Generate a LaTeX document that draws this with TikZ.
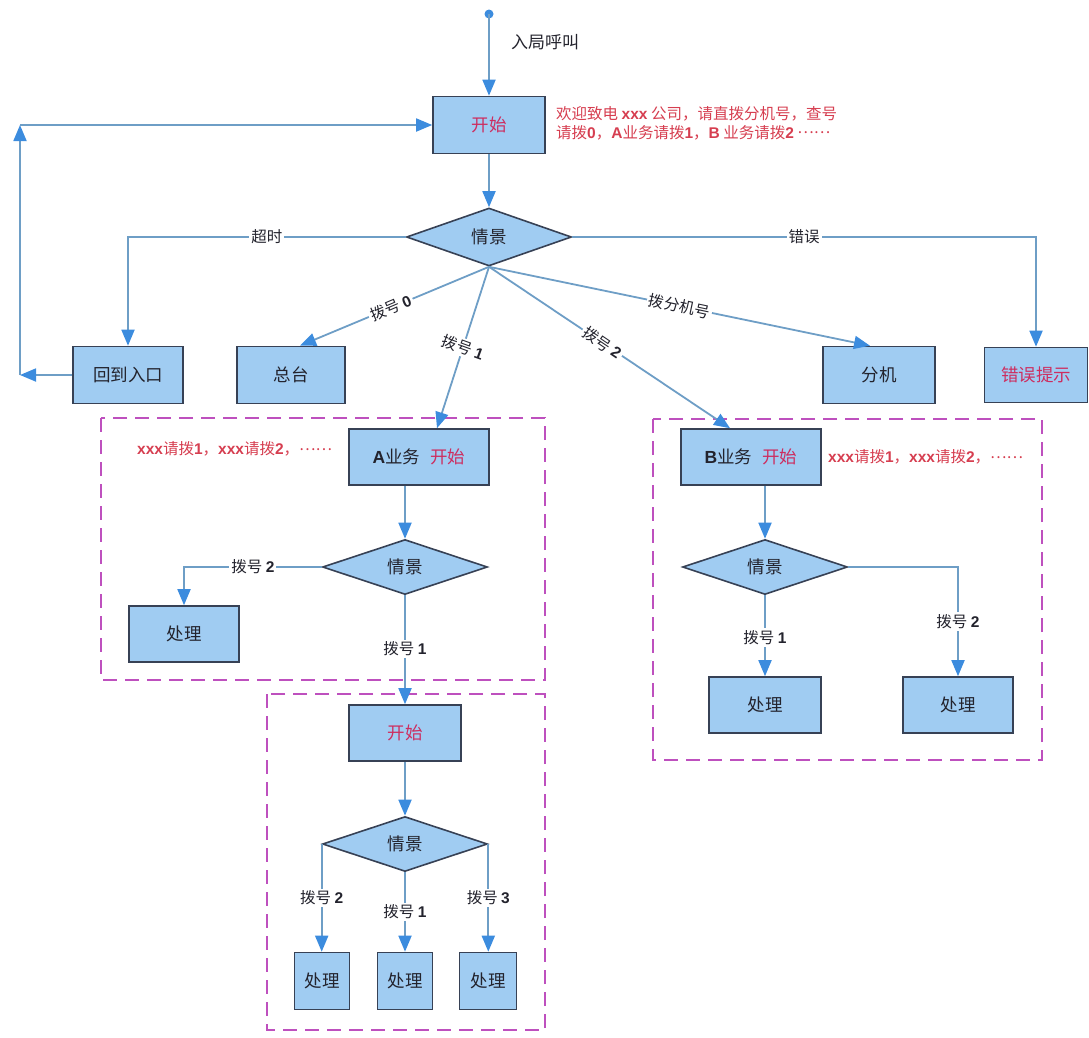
\documentclass[tikz,border=0pt]{standalone}
\usepackage{fontspec}
\setmainfont{Noto Sans CJK SC}
\newfontfamily\latb{Liberation Sans}
\usetikzlibrary{arrows.meta,shapes.geometric}
\definecolor{boxfill}{RGB}{160,204,242}
\definecolor{boxline}{RGB}{55,65,85}
\definecolor{linecol}{RGB}{110,158,198}
\definecolor{tipcol}{RGB}{60,140,222}
\definecolor{notered}{RGB}{214,62,80}
\definecolor{startred}{RGB}{205,45,95}
\definecolor{grpcol}{RGB}{190,80,190}
\definecolor{txt}{RGB}{35,35,45}
\newcommand\bd[1]{{\latb\bfseries #1}}
\newcommand\rd[1]{{\color{startred}#1}}
\newcommand\mdots{\raisebox{0.3em}{……}}
\tikzset{
  box/.style={draw=boxline, line width=1.6pt, fill=boxfill, inner sep=0pt, text=txt,
    font=\fontsize{17.5}{19}\selectfont},
  dia/.style={diamond, draw=boxline, line width=1.6pt, fill=boxfill, inner sep=0pt, aspect=3, text=txt,
    font=\fontsize{17.5}{19}\selectfont},
  conn/.style={draw=linecol, line width=1.8pt, -{Triangle[length=16pt,width=13pt,color=tipcol]}},
  lbl/.style={fill=white, inner sep=2pt, text=txt, font=\fontsize{15.5}{17}\selectfont},
  note/.style={text=notered, inner sep=0pt, align=left, font=\fontsize{15.5}{19}\selectfont},
  grp/.style={draw=grpcol, line width=2pt, dash pattern=on 14pt off 8pt},
}
\begin{document}
\begin{tikzpicture}[x=1pt,y=-1pt]
\useasboundingbox (0,0) rectangle (1089,1037);
% groups
\draw[grp] (101,418) rectangle (545,680);
\draw[grp] (267,694) rectangle (545,1030);
\draw[grp] (653,419) rectangle (1042,760);
% top nodes
\coordinate (s0) at (489,14);
\node[box, minimum width=112, minimum height=57] (start) at (489,125) {\rd{开始}};
\node[text=txt, font=\fontsize{17}{19}\selectfont, inner sep=0pt] (incall) at (545,42) {入局呼叫};
\node[note, anchor=west] (note0) at (556,123) {欢迎致电 \bd{xxx} 公司，请直拨分机号，查号\\请拨\bd{0}，\bd{A}业务请拨\bd{1}，\bd{B} 业务请拨\bd{2} \mdots};
\node[dia, minimum width=165, minimum height=58] (d0) at (489,237) {情景};
\node[box, minimum width=110, minimum height=57] (back) at (128,375) {回到入口};
\node[box, minimum width=108, minimum height=57] (zong) at (291,375) {总台};
\node[box, minimum width=112, minimum height=57] (fenji) at (879,375) {分机};
\node[box, minimum width=103, minimum height=55] (err) at (1036,375) {\rd{错误提示}};
\coordinate (lc) at (20,375);
\coordinate (tc) at (20,125);
% A group
\node[box, minimum width=140, minimum height=56] (Abox) at (419,457) {\bd{A}业务\hspace{10pt}\rd{开始}};
\node[note, anchor=west] (noteA) at (137,449) {\bd{xxx}请拨\bd{1}，\bd{xxx}请拨\bd{2}，\mdots};
\node[dia, minimum width=165, minimum height=55] (Ad) at (405,567) {情景};
\node[box, minimum width=110, minimum height=56] (Aproc) at (184,634) {处理};
% C group
\node[box, minimum width=112, minimum height=56] (Cstart) at (405,733) {\rd{开始}};
\node[dia, minimum width=165, minimum height=55] (Cd) at (405,844) {情景};
\node[box, minimum width=55, minimum height=57] (Cp1) at (322,981) {处理};
\node[box, minimum width=55, minimum height=57] (Cp2) at (405,981) {处理};
\node[box, minimum width=57, minimum height=57] (Cp3) at (488,981) {处理};
% B group
\node[box, minimum width=140, minimum height=56] (Bbox) at (751,457) {\bd{B}业务\hspace{10pt}\rd{开始}};
\node[note, anchor=west] (noteB) at (828,457) {\bd{xxx}请拨\bd{1}，\bd{xxx}请拨\bd{2}，\mdots};
\node[dia, minimum width=165, minimum height=55] (Bd) at (765,567) {情景};
\node[box, minimum width=112, minimum height=56] (Bp1) at (765,705) {处理};
\node[box, minimum width=110, minimum height=56] (Bp2) at (958,705) {处理};
% connectors
\fill[tipcol] (s0) circle (4.5);
\draw[conn] (s0) -- (start.north);
\draw[conn] (start.south) -- (d0.north);
\draw[conn] (d0.west) -| node[lbl, pos=0.25] {超时} (back.north);
\draw[conn] (d0.east) -| node[lbl, pos=0.25] {错误} (err.north);
\draw[conn] (back.west) -- (lc);
\draw[conn] (lc) -- (tc);
\draw[conn] (tc) -- (start.west);
\draw[conn] (d0.south) -- node[lbl, pos=0.52, rotate=23] {拨号 \bd{0}} ([xshift=9]zong.north);
\draw[conn] (d0.south) -- node[lbl, pos=0.5, rotate=-20] {拨号 \bd{1}} ([xshift=18]Abox.north);
\draw[conn] (d0.south) -- node[lbl, pos=0.47, rotate=-34] {拨号 \bd{2}} ([xshift=-21]Bbox.north);
\draw[conn] (d0.south) -- node[lbl, pos=0.5, rotate=-12] {拨分机号} ([xshift=-9]fenji.north);
% A
\draw[conn] ([xshift=-14]Abox.south) -- (Ad.north);
\draw[conn] (Ad.west) -| node[lbl, pos=0.25] {拨号 \bd{2}} (Aproc.north);
\draw[conn] (Ad.south) -- node[lbl, pos=0.49] {拨号 \bd{1}} (Cstart.north);
% C
\draw[conn] (Cstart.south) -- (Cd.north);
\draw[conn] (Cd.west) -- node[lbl, pos=0.5] {拨号 \bd{2}} (Cd.west |- Cp1.north);
\draw[conn] (Cd.south) -- node[lbl, pos=0.5] {拨号 \bd{1}} (Cp2.north);
\draw[conn] (Cd.east) -- node[lbl, pos=0.5] {拨号 \bd{3}} (Cd.east |- Cp3.north);
% B
\draw[conn] ([xshift=14]Bbox.south) -- (Bd.north);
\draw[conn] (Bd.south) -- node[lbl, pos=0.52] {拨号 \bd{1}} (Bp1.north);
\draw[conn] (Bd.east) -| node[lbl, pos=0.75] {拨号 \bd{2}} (Bp2.north);
\end{tikzpicture}
\end{document}
